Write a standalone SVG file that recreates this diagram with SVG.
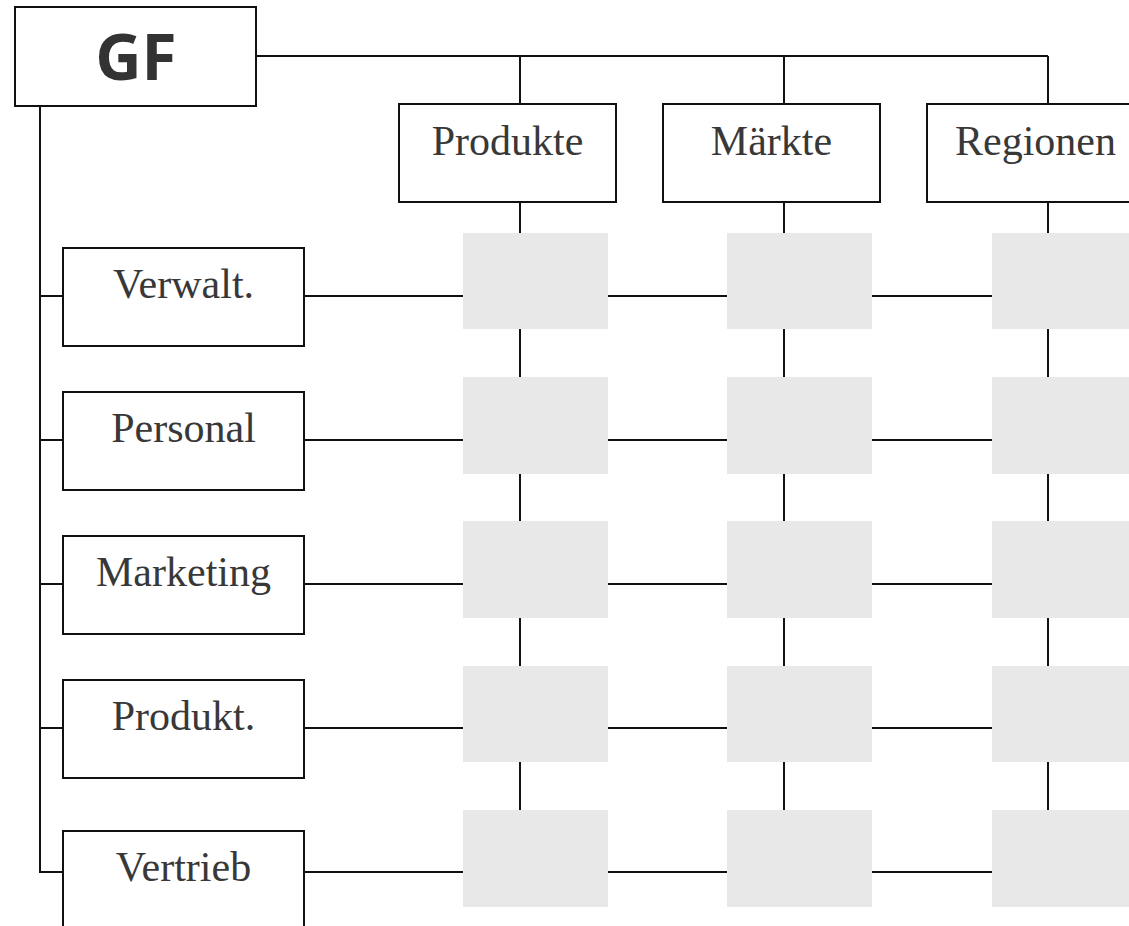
<svg xmlns="http://www.w3.org/2000/svg" width="1129" height="926" viewBox="0 0 1129 926">
  <style>
    .box { fill: #ffffff; stroke: #111111; stroke-width: 2; }
    .cell { fill: #e8e8e8; stroke: none; }
    .wire { fill: none; stroke: #111111; stroke-width: 2; }
    .lbl { font-family: "Liberation Serif", "Times New Roman", serif; font-size: 42px; fill: #383838; text-anchor: middle; }
    .head { font-family: "Open Sans", "Noto Sans", sans-serif; font-weight: bold; font-size: 64px; fill: #333333; text-anchor: middle; }
  </style>
  <rect width="1129" height="926" fill="#ffffff"/>

  <!-- connectors -->
  <g id="connectors" class="wire">
    <!-- GF to column heads -->
    <path d="M256 56 H1048 M520 56 V104 M784 56 V104 M1048 56 V104"/>
    <!-- columns running down through the matrix -->
    <path d="M520 202 V906 M784 202 V906 M1048 202 V906"/>
    <!-- GF spine to the functional units -->
    <path d="M40 106 V872 H63 M40 296 H63 M40 440 H63 M40 584 H63 M40 728 H63"/>
    <!-- rows running across the matrix -->
    <path d="M304 296 H1129 M304 440 H1129 M304 584 H1129 M304 728 H1129 M304 872 H1129"/>
  </g>

  <!-- matrix cells -->
  <g id="cells">
    <rect class="cell" x="463" y="233" width="145" height="96"/>
    <rect class="cell" x="727" y="233" width="145" height="96"/>
    <rect class="cell" x="992" y="233" width="145" height="96"/>
    <rect class="cell" x="463" y="377" width="145" height="97"/>
    <rect class="cell" x="727" y="377" width="145" height="97"/>
    <rect class="cell" x="992" y="377" width="145" height="97"/>
    <rect class="cell" x="463" y="521" width="145" height="97"/>
    <rect class="cell" x="727" y="521" width="145" height="97"/>
    <rect class="cell" x="992" y="521" width="145" height="97"/>
    <rect class="cell" x="463" y="666" width="145" height="96"/>
    <rect class="cell" x="727" y="666" width="145" height="96"/>
    <rect class="cell" x="992" y="666" width="145" height="96"/>
    <rect class="cell" x="463" y="810" width="145" height="97"/>
    <rect class="cell" x="727" y="810" width="145" height="97"/>
    <rect class="cell" x="992" y="810" width="145" height="97"/>
  </g>

  <!-- management -->
  <g id="gf">
    <rect class="box" x="15" y="7" width="241" height="99"/>
    <text class="head" x="136" y="80">GF</text>
  </g>

  <!-- column heads -->
  <g id="produkte">
    <rect class="box" x="399" y="104" width="217" height="98"/>
    <text class="lbl" x="507.5" y="155">Produkte</text>
  </g>
  <g id="maerkte">
    <rect class="box" x="663" y="104" width="217" height="98"/>
    <text class="lbl" x="771.5" y="155">Märkte</text>
  </g>
  <g id="regionen">
    <rect class="box" x="927" y="104" width="217" height="98"/>
    <text class="lbl" x="1035.5" y="155">Regionen</text>
  </g>

  <!-- functional units -->
  <g id="verwalt">
    <rect class="box" x="63" y="248" width="241" height="98"/>
    <text class="lbl" x="183.5" y="298">Verwalt.</text>
  </g>
  <g id="personal">
    <rect class="box" x="63" y="392" width="241" height="98"/>
    <text class="lbl" x="183.5" y="442">Personal</text>
  </g>
  <g id="marketing">
    <rect class="box" x="63" y="536" width="241" height="98"/>
    <text class="lbl" x="183.5" y="586">Marketing</text>
  </g>
  <g id="produkt">
    <rect class="box" x="63" y="680" width="241" height="98"/>
    <text class="lbl" x="183.5" y="730">Produkt.</text>
  </g>
  <g id="vertrieb">
    <rect class="box" x="63" y="831" width="241" height="120"/>
    <text class="lbl" x="183.5" y="881">Vertrieb</text>
  </g>
</svg>
